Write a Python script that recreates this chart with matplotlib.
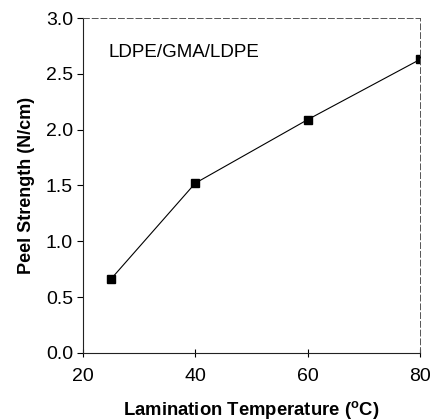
import matplotlib
matplotlib.use("Agg")
import matplotlib.pyplot as plt

temperature = [25, 40, 60, 80]
peel_strength = [0.66, 1.52, 2.09, 2.63]
xticks = [20, 40, 60, 80]
yticks = [0.0, 0.5, 1.0, 1.5, 2.0, 2.5, 3.0]

plt.rcParams['font.family'] = ['Liberation Sans', 'DejaVu Sans']

fig = plt.figure(figsize=(4.31, 4.2), dpi=100)
ax = fig.add_axes([0.192, 0.160, 0.783, 0.797])

ax.plot(temperature, peel_strength, color='black', linewidth=0.8,
        marker='s', markersize=5.5, markerfacecolor='black')

ax.set_xlim(20, 80)
ax.set_ylim(0, 3.0)
ax.set_xticks(xticks)
ax.set_yticks(yticks)
ax.set_yticklabels([f"{v:.1f}" for v in yticks])
ax.tick_params(axis='x', direction='inout', length=6, width=0.8, labelsize=14, pad=8)
ax.tick_params(axis='y', direction='out', length=4, width=0.8, labelsize=14, pad=3)

for side in ['top', 'right']:
    ax.spines[side].set_linestyle((0, (6, 3)))
    ax.spines[side].set_color('#555555')
    ax.spines[side].set_linewidth(0.7)
for side in ['left', 'bottom']:
    ax.spines[side].set_color('#222222')
    ax.spines[side].set_linewidth(0.8)

ax.set_xlabel("Lamination Temperature ($\\mathregular{^oC}$)", fontsize=13.3,
              fontweight='bold', labelpad=10)
ax.set_ylabel("Peel Strength (N/cm)", fontsize=13, fontweight='bold', labelpad=8)

ax.text(24.5, 2.69, "LDPE/GMA/LDPE", fontsize=13.5, va='center', ha='left')

fig.savefig("out.png", dpi=100)
plt.close(fig)
